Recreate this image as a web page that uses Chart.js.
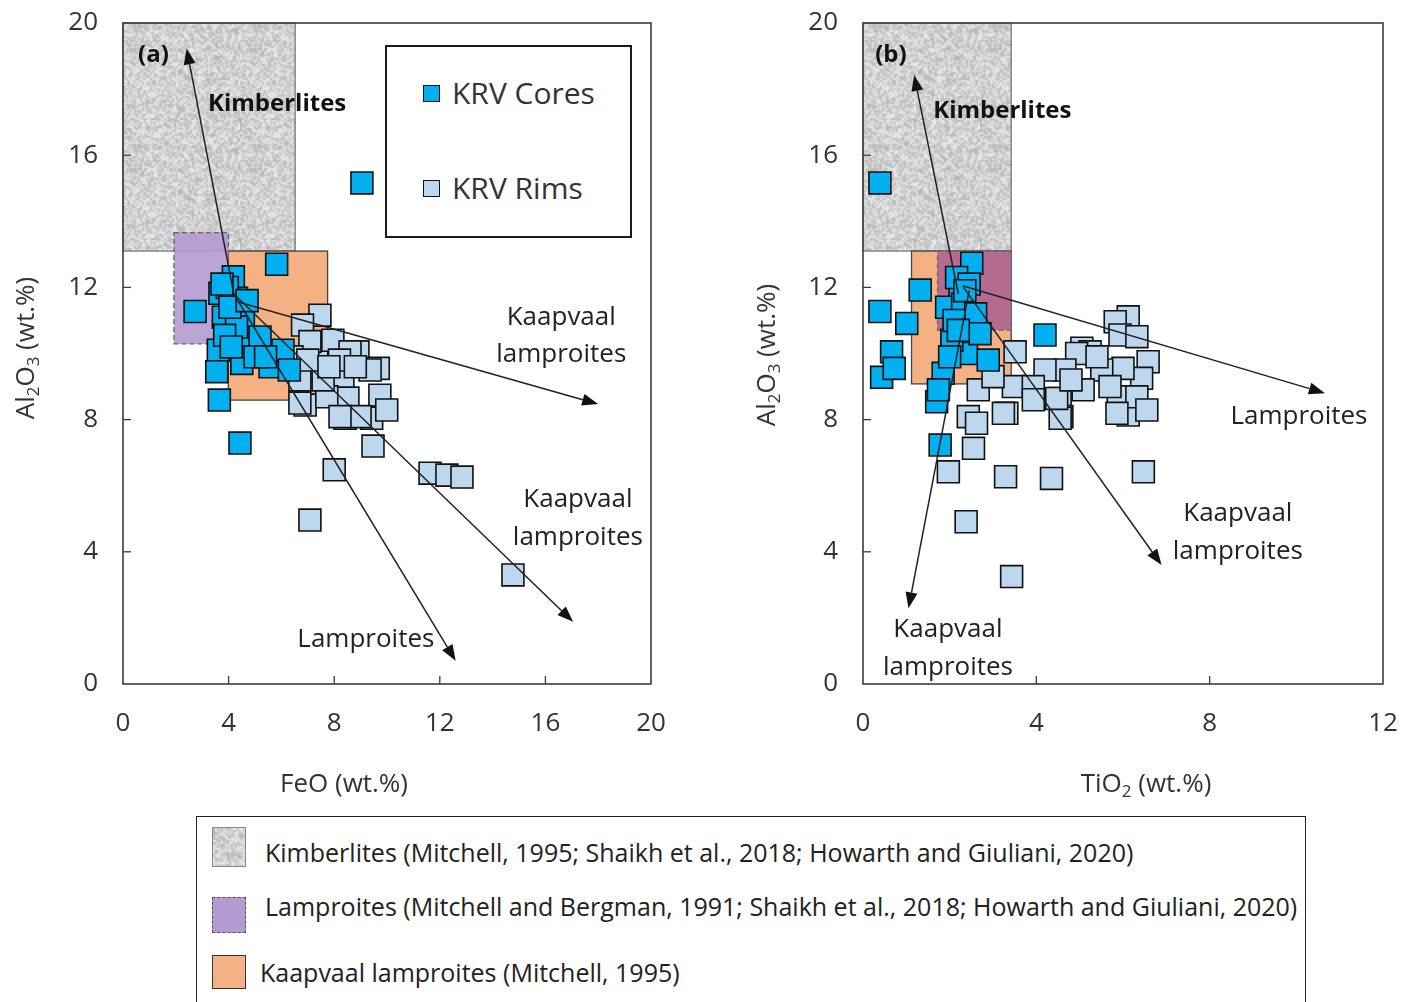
<!DOCTYPE html>
<html><head><meta charset="utf-8">
<script src="https://cdn.jsdelivr.net/npm/chart.js@4.4.1/dist/chart.umd.min.js"></script>
<style>
html,body{margin:0;padding:0;background:#fff;width:1402px;height:1002px;overflow:hidden;}
#wrapA{position:absolute;left:0;top:0;width:700px;height:810px;}
#wrapB{position:absolute;left:740px;top:0;width:662px;height:810px;}
#legA{position:absolute;left:385px;top:45px;width:243px;height:189px;border:2px solid #1a1a1a;background:#fff;font-family:'Open Sans',sans-serif;font-size:30px;color:#333;}
.li{position:absolute;left:36px;height:40px;line-height:40px;white-space:nowrap;}
.mk{display:inline-block;width:15px;height:15px;border:1.5px solid #111;vertical-align:middle;margin-right:12px;position:relative;top:-2px;}
#legB{position:absolute;left:196px;top:816px;width:1108px;height:200px;border:1.5px solid #222;background:#fff;font-family:'Open Sans',sans-serif;font-size:25px;color:#222;}
.sw{position:absolute;left:15px;width:34px;box-sizing:border-box;}
.lt{position:absolute;white-space:nowrap;line-height:32px;height:32px;}
</style></head>
<body>
<div id="wrapA"><canvas id="cA" width="700" height="810"></canvas></div>
<div id="wrapB"><canvas id="cB" width="662" height="810"></canvas></div>
<div id="legA">
  <div class="li" style="top:26px;"><span class="mk" style="background:#00b0f0"></span>KRV Cores</div>
  <div class="li" style="top:121px;"><span class="mk" style="background:#bdd7ee"></span>KRV Rims</div>
</div>
<div id="legB">
  <div class="sw" id="swK" style="top:10px;height:40px;border:1.5px solid #888;"></div>
  <div class="lt" style="left:68px;top:19px;">Kimberlites (Mitchell, 1995; Shaikh et al., 2018; Howarth and Giuliani, 2020)</div>
  <div class="sw" style="top:80px;height:36px;background:#b49bd0;border:1.5px dashed #555;"></div>
  <div class="lt" style="left:68px;top:73px;">Lamproites (Mitchell and Bergman, 1991; Shaikh et al., 2018; Howarth and Giuliani, 2020)</div>
  <div class="sw" style="top:138px;height:34px;background:#f4b183;border:1.5px solid #333;"></div>
  <div class="lt" style="left:63px;top:139px;">Kaapvaal lamproites (Mitchell, 1995)</div>
</div>
<script>
// ---------- DATA ----------
// Panel (a): FeO vs Al2O3
const coresA_FeO   = [9.05,5.82,2.73,4.18,4.30,3.67,3.80,4.56,4.81,3.61,3.55,4.50,5.95,5.19,3.65,4.30,5.57,4.43,6.06,3.95,4.05,3.85,4.10,5.00,6.30,4.70,3.75,5.40];
const coresA_Al2O3 = [15.16,12.70,11.27,12.32,11.67,11.82,11.10,11.10,10.30,10.10,9.45,9.70,10.00,10.50,8.59,10.80,9.60,7.29,10.10,12.00,11.40,10.55,10.20,9.90,9.50,11.60,12.10,9.90];
const rimsA_FeO    = [7.46,6.80,8.90,7.34,9.67,7.39,8.33,8.52,9.73,6.90,9.42,9.99,8.41,7.72,7.58,9.47,7.08,7.95,8.00,7.08,11.63,12.27,12.84,14.77,6.70,6.70,9.36,8.98,8.22,8.60,6.40,7.00,8.20,8.80,7.80];
const rimsA_Al2O3  = [11.16,10.86,10.05,10.00,9.55,9.50,9.20,8.65,8.74,8.44,8.04,8.29,8.04,8.69,9.20,7.20,10.36,10.40,6.48,4.96,6.38,6.32,6.26,3.30,8.50,9.20,9.50,8.09,8.09,10.05,9.90,9.80,9.80,9.60,9.60];
// Panel (b): TiO2 vs Al2O3
const coresB_TiO2  = [0.39,0.39,1.01,0.66,0.43,0.72,1.70,1.78,4.20,1.32,2.51,2.24,2.39,2.89,1.85,1.74,2.05,2.47,2.16,1.93,2.30,2.60,2.10,2.45,2.00,2.70,2.20,2.35];
const coresB_Al2O3 = [15.16,11.27,10.91,10.05,9.28,9.55,8.54,7.23,10.56,11.92,12.73,11.72,10.00,9.80,9.40,8.90,10.40,10.90,12.30,11.40,11.50,11.20,11.00,12.10,9.90,10.60,10.70,11.90];
const rimsB_TiO2   = [1.97,2.55,3.29,4.35,6.47,2.38,3.43,6.12,5.82,5.93,6.32,6.58,6.43,5.89,6.12,6.00,5.51,5.05,5.24,4.93,4.66,4.55,4.59,4.20,3.51,3.47,3.32,3.93,5.08,5.70,6.32,6.55,5.86,2.43,2.62,3.24,2.66,4.55,4.47,3.93,3.00,5.40,4.80];
const rimsB_Al2O3  = [6.42,7.13,6.27,6.22,6.42,4.91,3.25,11.11,10.96,10.56,10.51,9.75,9.25,8.69,8.14,9.55,9.50,10.16,10.05,10.00,9.50,8.64,8.09,9.50,10.05,9.00,8.19,9.00,8.90,9.00,8.69,8.29,8.19,8.09,7.89,8.19,8.90,8.04,8.64,8.60,9.30,9.90,9.20];
// Field boxes [xmin, xmax, ymin, ymax]
const kimberliteBoxA = [0, 6.52, 13.1, 20];
const kaapvaalBoxA   = [3.99, 7.75, 8.59, 13.1];
const lamproiteBoxA  = [1.93, 3.99, 10.29, 13.66];
const kimberliteBoxB = [0, 3.42, 13.1, 20];
const kaapvaalBoxB   = [1.12, 3.42, 9.08, 13.1];
const lamproiteBoxB  = [1.72, 3.42, 10.71, 13.1];
// Trend arrows [x0, y0, x1, y1]
const arrowsA = [[4.2,11.8,2.41,19.23],[4.4,11.55,18.0,8.47],[4.2,11.8,17.05,1.88],[4.2,11.8,12.6,0.7]];
const arrowsB = [[2.2,11.8,1.18,18.43],[2.3,12.05,10.66,8.8],[2.32,12.0,6.89,3.6],[2.45,11.9,1.05,2.29]];
// Labels [text, x, y, align, bold]
const labelsA = [["(a)",0.57,19.03,"left",true],["Kimberlites",3.22,17.55,"left",true],["Kaapvaal",16.6,11.1,"center",false],["lamproites",16.6,9.96,"center",false],["Kaapvaal",17.23,5.57,"center",false],["lamproites",17.23,4.42,"center",false],["Lamproites",9.2,1.33,"center",false]];
const labelsB = [["(b)",0.28,19.03,"left",true],["Kimberlites",1.62,17.34,"left",true],["Lamproites",10.06,8.08,"center",false],["Kaapvaal",8.65,5.17,"center",false],["lamproites",8.65,4.0,"center",false],["Kaapvaal",1.96,1.66,"center",false],["lamproites",1.96,0.51,"center",false]];
const yTicks = [0,4,8,12,16,20];

// ---------- texture ----------
function makeTexture(){
  const s=document.createElement('canvas'); s.width=s.height=60;
  const sg=s.getContext('2d'); const img=sg.createImageData(60,60);
  for(let j=0;j<60;j++)for(let i=0;i<60;i++){
    const h=Math.sin(i*12.9898+j*78.233)*43758.5453; const f=h-Math.floor(h);
    const v=Math.round(178+f*62); const k=(j*60+i)*4;
    img.data[k]=v;img.data[k+1]=v;img.data[k+2]=v;img.data[k+3]=255;
  }
  sg.putImageData(img,0,0);
  const c=document.createElement('canvas'); c.width=c.height=120;
  const g=c.getContext('2d'); g.imageSmoothingEnabled=true; g.drawImage(s,0,0,120,120);
  return c;
}
const tex = makeTexture();
document.getElementById('swK').style.backgroundImage='url('+tex.toDataURL()+')';

function pts(xs,ys){return xs.map((x,i)=>({x:x,y:ys[i]}));}

function drawRich(ctx, parts, size, cx, cy, rot){
  ctx.save(); ctx.translate(cx,cy); if(rot) ctx.rotate(rot);
  let w=0; parts.forEach(p=>{ctx.font=(p[1]?size*0.65:size)+"px 'Open Sans'"; w+=ctx.measureText(p[0]).width;});
  let x=-w/2; ctx.fillStyle='#333'; ctx.textBaseline='middle'; ctx.textAlign='left';
  parts.forEach(p=>{ctx.font=(p[1]?size*0.65:size)+"px 'Open Sans'"; ctx.fillText(p[0],x,p[1]?size*0.28:0); x+=ctx.measureText(p[0]).width;});
  ctx.restore();
}

function fieldsPlugin(boxes){
  return {id:'fields', beforeDatasetsDraw(chart){
    const {ctx,scales:{x,y}}=chart;
    boxes.forEach(b=>{
      const x0=x.getPixelForValue(b.box[0]), x1=x.getPixelForValue(b.box[1]);
      const y0=y.getPixelForValue(b.box[3]), y1=y.getPixelForValue(b.box[2]);
      ctx.save();
      if(b.tex){ctx.fillStyle=ctx.createPattern(tex,'repeat');} else ctx.fillStyle=b.fill;
      ctx.globalAlpha=b.alpha||1;
      ctx.fillRect(x0,y0,x1-x0,y1-y0);
      ctx.globalAlpha=1;
      ctx.strokeStyle=b.stroke; ctx.lineWidth=1.3; if(b.dash) ctx.setLineDash([5,3]);
      ctx.strokeRect(x0,y0,x1-x0,y1-y0);
      ctx.restore();
    });
  }};
}
function overlayPlugin(arrows, labels){
  return {id:'overlay', afterDatasetsDraw(chart){
    const {ctx,scales:{x,y}}=chart;
    ctx.save(); ctx.strokeStyle='#222'; ctx.fillStyle='#111'; ctx.lineWidth=1.5;
    arrows.forEach(a=>{
      const x0=x.getPixelForValue(a[0]), y0=y.getPixelForValue(a[1]);
      const x1=x.getPixelForValue(a[2]), y1=y.getPixelForValue(a[3]);
      const ang=Math.atan2(y1-y0,x1-x0), L=16, W=6;
      const bx=x1-L*Math.cos(ang), by=y1-L*Math.sin(ang);
      ctx.beginPath(); ctx.moveTo(x0,y0); ctx.lineTo(bx,by); ctx.stroke();
      ctx.beginPath(); ctx.moveTo(x1,y1);
      ctx.lineTo(bx+W*Math.sin(ang), by-W*Math.cos(ang));
      ctx.lineTo(bx-W*Math.sin(ang), by+W*Math.cos(ang)); ctx.closePath(); ctx.fill();
    });
    ctx.textBaseline='middle';
    labels.forEach(l=>{
      ctx.font=(l[4]?"bold 24px":"26px")+" 'Open Sans'"; ctx.fillStyle=l[4]?'#111':'#222';
      ctx.textAlign=l[3]; ctx.fillText(l[0], x.getPixelForValue(l[1]), y.getPixelForValue(l[2]));
    });
    ctx.restore();
  }};
}
function framePlugin(xTitle, yTitle, xTitlePos, yTitlePos){
  return {id:'frame', afterDraw(chart){
    const {ctx,chartArea:a,scales:{x,y}}=chart;
    ctx.save(); ctx.strokeStyle='#3c3c3c'; ctx.lineWidth=1.6;
    ctx.strokeRect(a.left,a.top,a.right-a.left,a.bottom-a.top);
    ctx.lineWidth=1.3;
    x.ticks.forEach(t=>{ if(t.value>x.min && t.value<x.max){const px=x.getPixelForValue(t.value); ctx.beginPath(); ctx.moveTo(px,a.bottom); ctx.lineTo(px,a.bottom-8); ctx.stroke();}});
    y.ticks.forEach(t=>{ if(t.value>y.min && t.value<y.max){const py=y.getPixelForValue(t.value); ctx.beginPath(); ctx.moveTo(a.left,py); ctx.lineTo(a.left+8,py); ctx.stroke();}});
    drawRich(ctx,xTitle,26,xTitlePos[0],xTitlePos[1],0);
    drawRich(ctx,yTitle,26,yTitlePos[0],yTitlePos[1],-Math.PI/2);
    ctx.restore();
  }};
}
function makeChart(id, cores, rims, xmax, rightPad, boxes, arrows, labels, xTitle, xPos, yPos){
  const tickFont={family:'Open Sans',size:26};
  return new Chart(document.getElementById(id),{
    type:'scatter',
    data:{datasets:[
      {label:'KRV Cores',data:cores,pointStyle:'rect',pointRadius:15.5,backgroundColor:'#00b0f0',borderColor:'#111',borderWidth:1.6},
      {label:'KRV Rims',data:rims,pointStyle:'rect',pointRadius:15.5,backgroundColor:'#bdd7ee',borderColor:'#111',borderWidth:1.6}
    ]},
    options:{responsive:false,animation:false,
      layout:{padding:{left:0,right:rightPad,top:23,bottom:0}},
      plugins:{legend:{display:false},tooltip:{enabled:false}},
      scales:{
        x:{type:'linear',min:0,max:xmax,ticks:{stepSize:4,padding:24,font:tickFont,color:'#333',maxRotation:0},grid:{display:false,drawTicks:false},border:{display:false},
           afterFit:s=>{s.height=126;s.paddingLeft=0;s.paddingRight=0;}},
        y:{type:'linear',min:0,max:20,afterBuildTicks:s=>{s.ticks=yTicks.map(v=>({value:v}));},ticks:{padding:25,font:tickFont,color:'#333'},grid:{display:false,drawTicks:false},border:{display:false},
           afterFit:s=>{s.width=123;s.paddingTop=0;s.paddingBottom=0;}}
      }
    },
    plugins:[fieldsPlugin(boxes),overlayPlugin(arrows,labels),framePlugin(xTitle,[["Al"],["2",1],["O"],["3",1],[" (wt.%)"]],xPos,yPos)]
  });
}
makeChart('cA', pts(coresA_FeO,coresA_Al2O3), pts(rimsA_FeO,rimsA_Al2O3), 20, 49,
  [{box:kimberliteBoxA,tex:true,stroke:'#777'},{box:kaapvaalBoxA,fill:'#f4b183',stroke:'#444'},{box:lamproiteBoxA,fill:'#b49bd0',alpha:0.9,stroke:'#666',dash:true}],
  arrowsA, labelsA, [["FeO (wt.%)"]], [344,785], [27,348]);
makeChart('cB', pts(coresB_TiO2,coresB_Al2O3), pts(rimsB_TiO2,rimsB_Al2O3), 12, 19,
  [{box:kimberliteBoxB,tex:true,stroke:'#777'},{box:kaapvaalBoxB,fill:'#f4b183',stroke:'#444'},{box:lamproiteBoxB,fill:'#b36b90',stroke:'#666',dash:true}],
  arrowsB, labelsB, [["TiO"],["2",1],[" (wt.%)"]], [406,785], [28,355]);
</script>
</body></html>
